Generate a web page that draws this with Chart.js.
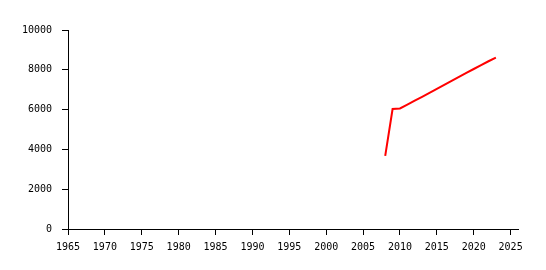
<!DOCTYPE html>
<html>
<head>
<meta charset="utf-8">
<script src="https://cdn.jsdelivr.net/npm/chart.js@4"></script>
<style>
  html, body { margin: 0; padding: 0; background: #fff; }
  #chart { display: block; }
</style>
</head>
<body>
<canvas id="chart" width="546" height="270"></canvas>
<script>
// values
const years = [2008, 2009, 2010, 2011, 2012, 2013, 2014, 2015, 2016, 2017, 2018, 2019, 2020, 2021, 2022, 2023];
const values = [3670, 6030, 6060, 6250, 6450, 6640, 6840, 7040, 7240, 7440, 7640, 7840, 8040, 8240, 8430, 8610];
const xTicks = [1965, 1970, 1975, 1980, 1985, 1990, 1995, 2000, 2005, 2010, 2015, 2020, 2025];
const yTicks = [0, 2000, 4000, 6000, 8000, 10000];

const tickFont = { family: 'DejaVu Sans Mono', size: 10 };

const ctx = document.getElementById('chart').getContext('2d');
new Chart(ctx, {
    type: 'line',
    data: {
        datasets: [{
            data: years.map((y, i) => ({ x: y, y: values[i] })),
            borderColor: '#ff0000',
            borderWidth: 2,
            pointRadius: 0,
            fill: false,
            tension: 0
        }]
    },
    options: {
        responsive: false,
        animation: false,
        layout: { padding: { top: 30, right: 28, left: 0, bottom: 0 } },
        plugins: { legend: { display: false }, tooltip: { enabled: false } },
        scales: {
            x: {
                type: 'linear',
                min: 1965,
                max: 2026,
                afterBuildTicks: s => { s.ticks = xTicks.map(v => ({ value: v })); },
                afterFit: s => { s.height = 41; },
                grid: { drawOnChartArea: false, drawTicks: true, tickLength: 6, color: '#000' },
                border: { color: '#000', width: 1 },
                ticks: { color: '#000', font: tickFont, padding: 6, maxRotation: 0, autoSkip: false,
                         callback: v => String(v) }
            },
            y: {
                min: 0,
                max: 10000,
                afterBuildTicks: s => { s.ticks = yTicks.map(v => ({ value: v })); },
                afterFit: s => { s.width = 68; },
                grid: { drawOnChartArea: false, drawTicks: true, tickLength: 6, color: '#000' },
                border: { color: '#000', width: 1 },
                ticks: { color: '#000', font: tickFont, padding: 10, callback: v => String(v) }
            }
        }
    }
});
</script>
</body>
</html>
